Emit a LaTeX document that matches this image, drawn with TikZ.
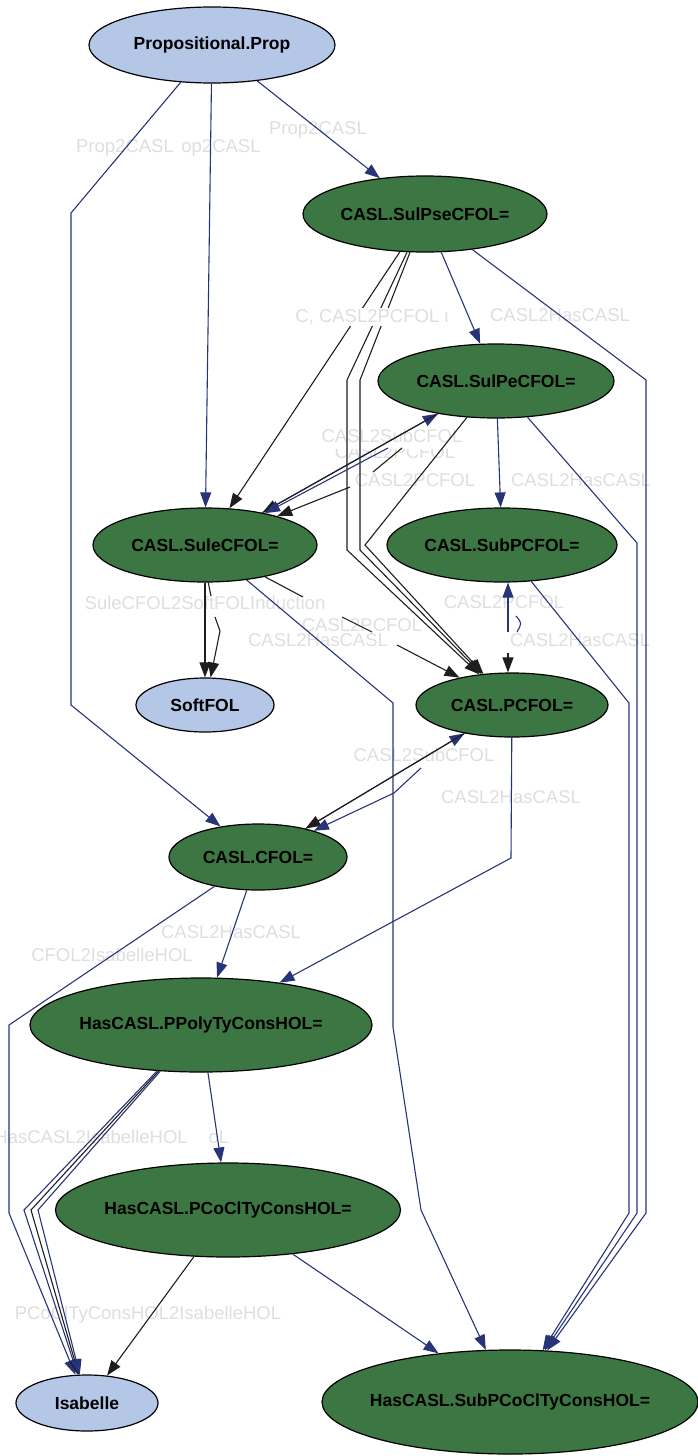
\documentclass[tikz,border=0pt]{standalone}
\usepackage{fontspec}
\setmainfont{Liberation Sans}
\usetikzlibrary{shapes.geometric,arrows.meta}
\definecolor{propblue}{RGB}{180,199,230}
\definecolor{logicgreen}{RGB}{60,118,66}
\definecolor{edgeblue}{RGB}{40,52,120}
\definecolor{edgeblack}{RGB}{30,30,30}
\definecolor{lblgrey}{RGB}{222,222,222}
\begin{document}
\begin{tikzpicture}[x=1pt,y=-1pt,
  lnode/.style={ellipse,draw=black,line width=1.2pt,inner sep=0pt,text=black,
    font=\fontsize{17.5}{20}\selectfont\bfseries},
  bluenode/.style={lnode,fill=propblue},
  greennode/.style={lnode,fill=logicgreen},
  bline/.style={draw=edgeblue,line width=1.1pt},
  kline/.style={draw=edgeblack,line width=1.1pt},
  arr/.style={-{Triangle[length=15pt,width=11pt]}},
  lbl/.style={text=lblgrey,font=\fontsize{18.5}{21}\selectfont,inner sep=1pt}]
\useasboundingbox (0,0) rectangle (698,1456);

\node[bluenode,minimum width=246pt,minimum height=76pt] (prop) at (212,45) {\makebox[0pt]{Propositional.Prop}};
\node[greennode,minimum width=244pt,minimum height=76pt] (sulpse) at (425,214) {\makebox[0pt]{CASL.SulPseCFOL=}};
\node[greennode,minimum width=236pt,minimum height=74pt] (sulpe) at (496,381) {\makebox[0pt]{CASL.SulPeCFOL=}};
\node[greennode,minimum width=224pt,minimum height=74pt] (sule) at (205,545) {\makebox[0pt]{CASL.SuleCFOL=}};
\node[greennode,minimum width=230pt,minimum height=74pt] (subpcfol) at (502,545) {\makebox[0pt]{CASL.SubPCFOL=}};
\node[bluenode,minimum width=138pt,minimum height=54pt] (softfol) at (205,705) {\makebox[0pt]{SoftFOL}};
\node[greennode,minimum width=192pt,minimum height=64pt] (pcfol) at (512,705) {\makebox[0pt]{CASL.PCFOL=}};
\node[greennode,minimum width=178pt,minimum height=66pt] (cfol) at (258,857) {\makebox[0pt]{CASL.CFOL=}};
\node[greennode,minimum width=342pt,minimum height=94pt] (ppoly) at (201,1025) {\makebox[0pt]{HasCASL.PPolyTyConsHOL=}};
\node[greennode,minimum width=345pt,minimum height=94pt] (pcocl) at (228,1210) {\makebox[0pt]{HasCASL.PCoClTyConsHOL=}};
\node[bluenode,minimum width=142pt,minimum height=56pt] (isabelle) at (87,1403) {\makebox[0pt]{Isabelle}};
\node[greennode,minimum width=376pt,minimum height=104pt] (subpcocl) at (510,1402) {\makebox[0pt]{HasCASL.SubPCoClTyConsHOL=}};

\node[lbl] at (318,130) {Prop2CASL};
\node[lbl] at (221,148) {op2CASL};
\node[lbl] at (125,148) {Prop2CASL};
\node[lbl] at (560,315) {CASL2HasCASL};
\begin{scope}
\clip (320,449) rectangle (470,470);
\node[lbl] at (395,452) {CASL2PCFOL};
\end{scope}
\node[lbl] at (392,436) {CASL2SubCFOL};
\node[lbl] at (415,480) {CASL2PCFOL};
\node[lbl] at (581,480) {CASL2HasCASL};
\node[lbl] at (205,603) {SuleCFOL2SoftFOLInduction};
\node[lbl] at (504,602) {CASL2PCFOL};
\node[lbl] at (362,625) {CASL2PCFOL};
\node[lbl] at (318,640) {CASL2HasCASL};
\node[lbl] at (580,640) {CASL2HasCASL};
\node[lbl] at (424,755) {CASL2SubCFOL};
\node[lbl] at (511,797) {CASL2HasCASL};
\node[lbl] at (231,932) {CASL2HasCASL};
\node[lbl] at (112,955) {CFOL2IsabelleHOL};
\node[lbl,anchor=east] at (189,1137) {HasCASL2IsabelleHOL};
\node[lbl] at (219,1137) {oL};
\node[lbl] at (148,1315) {PCoClTyConsHOL2IsabelleHOL};

\coordinate (c1) at (388,448);
\coordinate (c2) at (402,448);
\coordinate (c3) at (373,472);
\coordinate (c4) at (350,487);
\coordinate (c5) at (211,596);
\coordinate (c6) at (215,617);
\coordinate (c7) at (303,597);
\coordinate (c8) at (342,617);
\coordinate (c9) at (372,632);
\coordinate (c10) at (397,645);
\coordinate (c11) at (508,632);
\coordinate (c12) at (508,653);
\coordinate (c13) at (516,616);
\coordinate (c14) at (517,632);
\coordinate (c15) at (421,768);

\draw[bline,arr] (prop) -- (sulpse);
\draw[bline,arr] (prop) -- (sule);
\draw[bline,arr] (prop) -- (71,213) -- (71,705) -- (cfol);

\draw[bline,arr] (sulpse) -- (sulpe);
\draw[bline,arr] (sulpse) -- (646,380) -- (646,1213) -- (subpcocl);
\draw[kline,arr] (sulpse) -- (sule);
\draw[kline,arr] (sulpse) -- (347,380) -- (347,550) -- (pcfol);
\draw[kline,arr] (sulpse) -- (360,380) -- (360,550) -- (pcfol);

\draw[bline,arr] (sulpe) -- (subpcfol);
\draw[bline,arr] (sulpe) -- (637,543) -- (637,1213) -- (subpcocl);
\draw[kline,arr] (sulpe) -- (365,545) -- (pcfol);
\draw[bline,arr] (sule) -- (sulpe);
\draw[kline,arr] (sulpe) -- (sule);
\draw[bline,arr] (c1) -- (sule);
\draw[kline] (c2) -- (c3);
\draw[kline,arr] (c4) -- (sule);

\draw[kline,arr] (sule) -- (softfol);
\draw[kline] (sule.-85) -- (c5);
\draw[kline,arr] (c6) -- (220,631) -- (softfol);
\draw[kline] (sule) -- (c7);
\draw[kline] (c8) -- (c9);
\draw[kline,arr] (c10) -- (pcfol);
\draw[bline,arr] (sule) -- (393,703) -- (393,1027) -- (421,1210) -- (subpcocl);

\draw[bline,arr] (subpcfol) -- (629,703) -- (629,1213) -- (subpcocl);
\draw[bline,arr] (c11) -- (c11 |- subpcfol.south);
\draw[kline,arr] (c12) -- (c12 |- pcfol.north);
\draw[bline] (c13) .. controls (522,623) .. (c14);

\draw[bline,arr] (cfol) -- (pcfol);
\draw[kline,arr] (pcfol) -- (cfol);
\draw[bline,arr] (c15) -- (394,793) -- (cfol);
\draw[bline,arr] (pcfol) -- (511,858) -- (ppoly);

\draw[bline,arr] (cfol) -- (ppoly);
\draw[bline,arr] (cfol) -- (9,1025) -- (9,1213) -- (isabelle);

\draw[bline,arr] (ppoly) -- (pcocl);
\draw[bline,arr] (ppoly) -- (24,1210) -- (isabelle);
\draw[kline,arr] (ppoly) -- (31,1210) -- (isabelle);
\draw[bline,arr] (ppoly) -- (38,1210) -- (isabelle);

\draw[kline,arr] (pcocl) -- (isabelle);
\draw[bline,arr] (pcocl) -- (subpcocl);

\node[lbl,fill=white] at (372,317) {C, CASL2PCFOL ι};
\end{tikzpicture}
\end{document}
